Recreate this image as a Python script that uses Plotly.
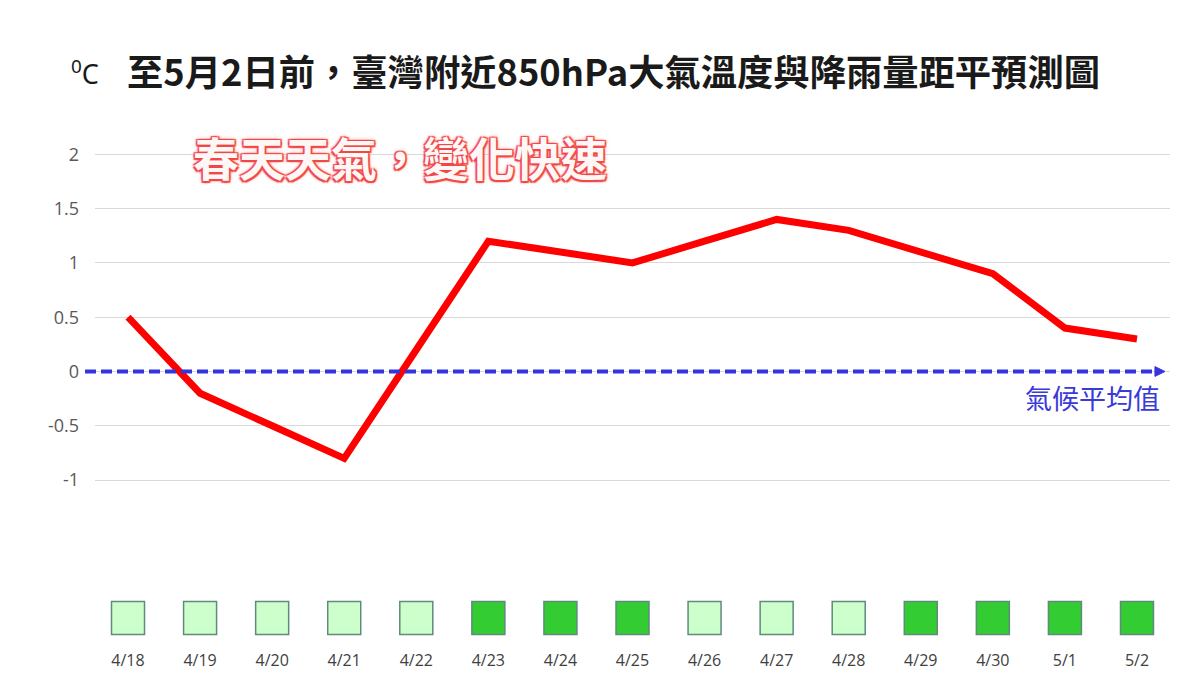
import plotly.graph_objects as go

dates = ["4/18", "4/19", "4/20", "4/21", "4/22", "4/23", "4/24", "4/25",
         "4/26", "4/27", "4/28", "4/29", "4/30", "5/1", "5/2"]
temp_anomaly = [0.5, -0.2, -0.5, -0.8, 0.2, 1.2, 1.1, 1.0,
                1.2, 1.4, 1.3, 1.1, 0.9, 0.4, 0.3]
# rainfall anomaly category: 0 = light (below normal), 1 = dark (above normal)
rain_category = [0, 0, 0, 0, 0, 1, 1, 1, 0, 0, 0, 1, 1, 1, 1]
y_ticks = [-1, -0.5, 0, 0.5, 1, 1.5, 2]

LIGHT = "#ccffcc"
DARK = "#33cc33"
BLUE = "#3535e0"
square_colors = [DARK if c else LIGHT for c in rain_category]

idx = list(range(len(dates)))

fig = go.Figure()

fig.add_trace(go.Scatter(
    x=idx, y=temp_anomaly, mode="lines",
    line=dict(color="#ff0000", width=7),
    xaxis="x", yaxis="y", showlegend=False, hoverinfo="skip",
))

fig.add_trace(go.Scatter(
    x=idx, y=[0.5] * len(idx), mode="markers",
    marker=dict(symbol="square", size=33, color=square_colors,
                line=dict(color="#5f8a7c", width=1.5)),
    xaxis="x2", yaxis="y2", showlegend=False, hoverinfo="skip",
))

xrange = [-0.458, len(dates) - 1 + 0.458]

fig.update_layout(
    width=1192, height=667,
    margin=dict(l=87, r=30, t=130, b=25, autoexpand=False),
    paper_bgcolor="white", plot_bgcolor="white",
    font=dict(family="Noto Sans CJK TC, Noto Sans, sans-serif", color="#595959"),
    xaxis=dict(domain=[0, 1], range=xrange, showticklabels=False, automargin=False,
               showgrid=False, zeroline=False, showline=False, anchor="y"),
    yaxis=dict(domain=[0.30, 1], range=[-1.15, 2.15], tickvals=y_ticks,
               ticktext=[("%g" % v) for v in y_ticks], automargin=False,
               showgrid=True, gridcolor="#d9d9d9", gridwidth=1,
               zeroline=False, showline=False, ticks="",
               tickfont=dict(size=18, color="#595959", family="Open Sans, sans-serif"),
               ticklabelstandoff=15, anchor="x"),
    xaxis2=dict(domain=[0, 1], range=xrange, tickvals=idx, ticktext=dates,
                showgrid=False, zeroline=False, showline=False, ticks="",
                automargin=False,
                tickfont=dict(size=16, color="#404040", family="Open Sans, sans-serif"),
                ticklabelstandoff=5, anchor="y2"),
    yaxis2=dict(domain=[0.0125, 0.1125], range=[0, 1], visible=False, automargin=False,
                showgrid=False, zeroline=False, anchor="x2"),
)

# climatological mean reference line (dashed, with arrow head)
fig.add_shape(type="line", xref="paper", yref="y", x0=-0.0093, x1=0.988, y0=0, y1=0,
              line=dict(color=BLUE, width=4, dash="11px,5px"), layer="above")
fig.add_shape(type="path", xref="paper", yref="y",
              path="M 0.986 0.045 L 0.9953 0 L 0.986 -0.045 Z",
              fillcolor=BLUE, line=dict(color=BLUE, width=1), layer="above")
fig.add_annotation(xref="paper", yref="y", x=0.9926, y=0, yshift=-26,
                   xanchor="right", yanchor="middle", showarrow=False,
                   text="氣候平均值",
                   font=dict(size=27, color="#3a3ad8", family="Noto Sans CJK TC"))

# title
fig.add_annotation(xref="paper", yref="paper", x=-0.024, y=1, yshift=66,
                   xanchor="left", yanchor="middle", showarrow=False,
                   text="<sup>0</sup>C",
                   font=dict(size=27, color="#1a1a1a", family="Noto Sans"))
fig.add_annotation(xref="paper", yref="paper", x=0.028, y=1, yshift=68,
                   xanchor="left", yanchor="middle", showarrow=False,
                   text="<b>至5月2日前，臺灣附近850hPa大氣溫度與降雨量距平預測圖</b>",
                   font=dict(size=36.3, color="#1a1a1a", family="Noto Sans CJK TC"))

# highlighted caption
fig.add_annotation(xref="paper", yref="paper", x=0.089, y=1, yshift=-18,
                   xanchor="left", yanchor="middle", showarrow=False,
                   text="<b>春天天氣，變化快速</b>",
                   font=dict(size=46, color="#fff6f6", family="Noto Sans CJK TC",
                             shadow="-1.5px -1.5px 1px #f04848, 1.5px -1.5px 1px #f04848, "
                                    "-1.5px 1.5px 1px #f04848, 1.5px 1.5px 1px #f04848, "
                                    "0 0 5px #ff9090"))

fig.write_html("out.html")
